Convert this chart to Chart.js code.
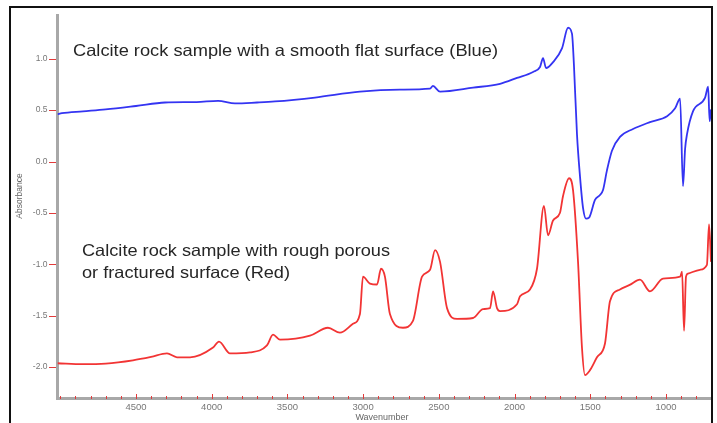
<!DOCTYPE html>
<html>
<head>
<meta charset="utf-8">
<script src="https://cdn.jsdelivr.net/npm/chart.js@4"></script>
<style>
html,body{margin:0;padding:0;background:#fff;}
#wrap{width:717px;height:423px;}
</style>
</head>
<body>
<div id="wrap"><canvas id="c" width="717" height="423"></canvas></div>
<script>
// ---- data (wavenumber, absorbance) ----
const blueWn  = [5018,4989,4850,4700,4500,4308,4100,3958,3846,3700,3582,3318,3021,2757,2558,2539,2492,2274,2096,1984,1878,1832,1812,1792,1746,1687,1647,1621,1608,1588,1568,1548,1528,1508,1469,1436,1416,1390,1357,1304,1218,1106,993,940,907,888,874,861,822,742,722,712,703];
const blueAbs = [0.46,0.47,0.488,0.507,0.54,0.574,0.578,0.59,0.565,0.574,0.584,0.622,0.679,0.699,0.708,0.735,0.679,0.718,0.756,0.813,0.871,0.919,1.005,0.909,0.967,1.100,1.301,1.244,0.938,0.268,-0.144,-0.450,-0.555,-0.545,-0.373,-0.325,-0.278,-0.086,0.105,0.239,0.316,0.383,0.440,0.517,0.612,-0.239,0.124,0.268,0.488,0.622,0.727,0.392,0.507];

const redWn  = [5018,4850,4700,4520,4400,4295,4229,4143,3991,3952,3879,3747,3635,3595,3549,3351,3232,3153,3067,3021,3001,2955,2908,2882,2856,2823,2737,2671,2611,2558,2525,2492,2446,2380,2274,2208,2162,2142,2116,2096,1984,1964,1898,1852,1806,1779,1746,1700,1680,1640,1614,1581,1555,1535,1502,1456,1403,1370,1304,1240,1172,1106,1020,907,894,881,868,855,776,730,716,703];
const redAbs = [-1.962,-1.971,-1.965,-1.933,-1.90,-1.866,-1.904,-1.904,-1.809,-1.751,-1.866,-1.856,-1.789,-1.684,-1.732,-1.694,-1.617,-1.665,-1.579,-1.483,-1.120,-1.187,-1.196,-1.043,-1.120,-1.483,-1.617,-1.550,-1.120,-1.053,-0.861,-0.976,-1.426,-1.531,-1.522,-1.435,-1.426,-1.263,-1.426,-1.455,-1.388,-1.311,-1.244,-1.043,-0.431,-0.718,-0.574,-0.498,-0.335,-0.163,-0.278,-0.976,-1.809,-2.077,-2.029,-1.904,-1.770,-1.359,-1.244,-1.20,-1.148,-1.263,-1.139,-1.120,-1.072,-1.646,-1.12,-1.091,-1.053,-1.005,-0.612,-0.976];

const xTickLabels = [4500,4000,3500,3000,2500,2000,1500,1000];
const yTickLabels = [1.0,0.5,0.0,-0.5,-1.0,-1.5,-2.0];
const xMinorTicks = [];
for (let v = 800; v <= 5000; v += 100) xMinorTicks.push(v);

const blueLabel = 'Calcite rock sample with a smooth flat surface (Blue)';
const redLabel1 = 'Calcite rock sample with rough porous';
const redLabel2 = 'or fractured surface (Red)';
const xTitle = 'Wavenumber';
const yTitle = 'Absorbance';

const toPts = (xs, ys) => xs.map((x, i) => ({x: x, y: ys[i]}));

function stretchedText(ctx, text, x, y, stretch) {
  ctx.save();
  ctx.translate(x, y);
  ctx.scale(stretch, 1);
  ctx.fillText(text, 0, 0);
  ctx.restore();
}

const decor = {
  id: 'decor',
  beforeDraw(chart) {
    const ctx = chart.ctx;
    ctx.save();
    ctx.fillStyle = '#fff';
    ctx.fillRect(0, 0, chart.width, chart.height);
    ctx.restore();
  },
  afterDraw(chart) {
    const ctx = chart.ctx;
    const xs = chart.scales.x, ys = chart.scales.y;
    const a = chart.chartArea;
    ctx.save();
    // outer frame
    ctx.strokeStyle = '#111';
    ctx.lineWidth = 2;
    ctx.beginPath();
    ctx.moveTo(10, 430); ctx.lineTo(10, 7); ctx.lineTo(712, 7); ctx.lineTo(712, 430);
    ctx.stroke();
    // red ticks
    ctx.strokeStyle = '#e23a3a';
    ctx.lineWidth = 1;
    yTickLabels.forEach(v => {
      const y = Math.round(ys.getPixelForValue(v)) + 0.5;
      ctx.beginPath(); ctx.moveTo(49, y); ctx.lineTo(56, y); ctx.stroke();
    });
    xMinorTicks.forEach(v => {
      const x = Math.round(xs.getPixelForValue(v)) + 0.5;
      const major = xTickLabels.includes(v);
      ctx.beginPath();
      ctx.moveTo(x, major ? a.bottom - 4 : a.bottom - 2);
      ctx.lineTo(x, a.bottom + 1);
      ctx.stroke();
    });
    // axis titles
    ctx.fillStyle = '#666';
    ctx.font = '9px "Liberation Sans", Arial, sans-serif';
    ctx.textAlign = 'center';
    ctx.textBaseline = 'middle';
    ctx.fillText(xTitle, 382, 418);
    ctx.save();
    ctx.translate(20, 196);
    ctx.rotate(-Math.PI / 2);
    ctx.font = '8.5px "Liberation Sans", Arial, sans-serif';
    ctx.fillText(yTitle, 0, 0);
    ctx.restore();
    // annotations
    ctx.fillStyle = '#262626';
    ctx.textAlign = 'left';
    ctx.textBaseline = 'middle';
    ctx.font = '16.5px "Liberation Sans", Arial, sans-serif';
    const s1 = 425 / ctx.measureText(blueLabel).width;
    const s2 = 308 / ctx.measureText(redLabel1).width;
    stretchedText(ctx, blueLabel, 73, 51, s1);
    stretchedText(ctx, redLabel1, 82, 251, s2);
    stretchedText(ctx, redLabel2, 82, 273, s2);
    ctx.restore();
  }
};

new Chart(document.getElementById('c'), {
  type: 'line',
  data: {
    datasets: [
      {data: toPts(blueWn, blueAbs), borderColor: '#3434f2', borderWidth: 1.8, pointRadius: 0, tension: 0, cubicInterpolationMode: 'monotone', fill: false},
      {data: toPts(redWn, redAbs), borderColor: '#f23434', borderWidth: 1.8, pointRadius: 0, tension: 0, cubicInterpolationMode: 'monotone', fill: false}
    ]
  },
  options: {
    responsive: false,
    animation: false,
    events: [],
    layout: {padding: {left: 10, top: 9, right: 6, bottom: 0}},
    plugins: {legend: {display: false}, tooltip: {enabled: false}, title: {display: false}},
    scales: {
      x: {
        type: 'linear', reverse: true, min: 703, max: 5018,
        afterBuildTicks: s => { s.ticks = xTickLabels.map(v => ({value: v})); },
        afterFit: s => { s.height = 25; },
        grid: {display: false, drawTicks: false},
        border: {display: true, color: '#a8a8a8', width: 3},
        ticks: {color: '#777', font: {size: 9.5, family: '"Liberation Sans", Arial, sans-serif'}, padding: 4, maxRotation: 0, autoSkip: false, callback: v => String(v)}
      },
      y: {
        type: 'linear', min: -2.30, max: 1.424,
        afterBuildTicks: s => { s.ticks = yTickLabels.map(v => ({value: v})); },
        afterFit: s => { s.width = 47.5; },
        grid: {display: false, drawTicks: false},
        border: {display: true, color: '#a8a8a8', width: 3},
        ticks: {color: '#777', font: {size: 8.5, family: '"Liberation Sans", Arial, sans-serif'}, padding: 10, autoSkip: false, callback: v => v.toFixed(1)}
      }
    }
  },
  plugins: [decor]
});
</script>
</body>
</html>
